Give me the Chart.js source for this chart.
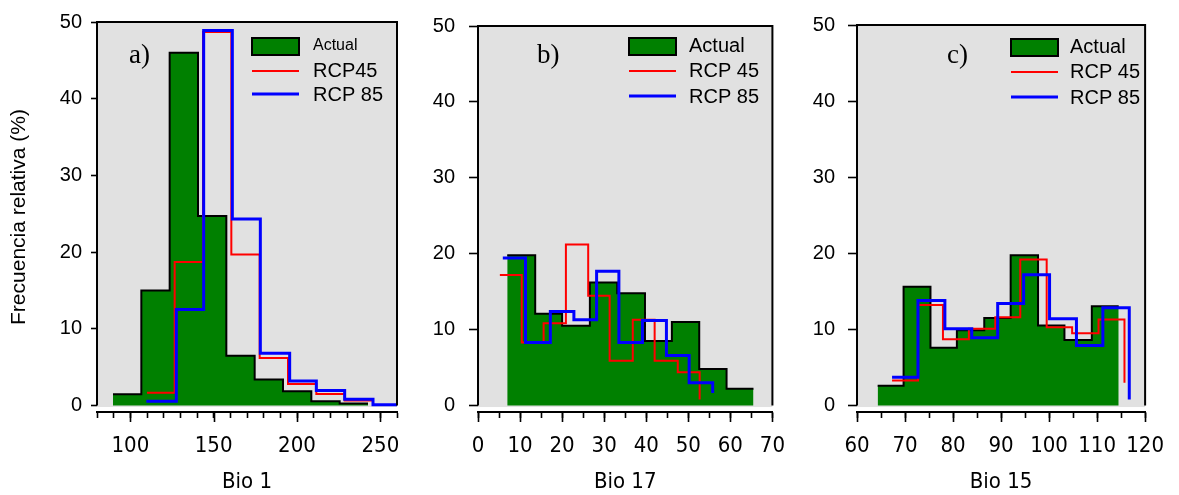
<!DOCTYPE html>
<html lang="es">
<head>
<meta charset="UTF-8">
<title>Frecuencia relativa - Bio 1, Bio 17, Bio 15</title>
<script src="https://cdn.jsdelivr.net/npm/chart.js@4.4.0/dist/chart.umd.min.js"></script>
<style>
    html, body { margin: 0; padding: 0; background: #fff; }
    .panel { position: absolute; top: 0; height: 495px; }
</style>
</head>
<body>
<div class="panel" style="left:0;width:420px"><canvas id="chartA"></canvas></div>
<div class="panel" style="left:420px;width:380px"><canvas id="chartB"></canvas></div>
<div class="panel" style="left:800px;width:379px"><canvas id="chartC"></canvas></div>

<script>
// Bio 1 (panel a)
const bio1Edges = [89.6, 106.6, 123.6, 140.6, 157.6, 174.6, 191.6, 208.6, 225.6, 242.6];
const bio1Actual = [1.45, 15.0, 46.0, 24.7, 6.5, 3.4, 1.86, 0.56, 0.26];
const bio1Rcp45X = [110, 126.6, 143.6, 160.6, 177.6, 194.6, 211.6, 228.6, 245.6];
const bio1Rcp45 = [1.65, 18.7, 48.7, 19.7, 6.2, 2.8, 1.5, 0.65, 0];
const bio1Rcp85X = [109.6, 127.6, 144, 161.2, 178, 195.6, 211.6, 228.6, 245.6, 260];
const bio1Rcp85 = [0.56, 12.5, 48.9, 24.3, 6.8, 3.2, 1.95, 0.8, 0.1, 0.1];
const bio1Labels = [100, 150, 200, 250];

// Bio 17 (panel b)
const bio17Edges = [6.95, 13.6, 20.0, 26.6, 33.1, 39.7, 46.1, 52.6, 59.1, 65.5];
const bio17Actual = [19.8, 12.1, 10.5, 16.2, 14.8, 8.5, 11.0, 4.8, 2.2];
const bio17Rcp45X = [5.2, 10.4, 15.6, 20.9, 26.2, 31.3, 36.8, 42.0, 47.5, 52.7];
const bio17Rcp45 = [17.2, 8.3, 10.85, 21.2, 14.45, 5.9, 11.3, 5.9, 4.4, 0.8];
const bio17Rcp85X = [5.9, 11.3, 17.2, 22.8, 28.2, 33.5, 39.1, 44.8, 50.2, 55.8];
const bio17Rcp85 = [19.45, 8.3, 12.4, 11.3, 17.7, 8.3, 11.2, 6.6, 3.0, 1.65];
const bio17Labels = [0, 10, 20, 30, 40, 50, 60, 70];

// Bio 15 (panel c)
const bio15Edges = [64.3, 69.7, 75.3, 80.8, 86.5, 92.0, 97.7, 103.2, 108.9, 114.5];
const bio15Actual = [2.6, 15.6, 7.6, 9.9, 11.5, 19.75, 10.5, 8.6, 13.05];
const bio15Rcp45X = [67.3, 72.7, 77.9, 83.3, 88.8, 94.0, 99.5, 104.8, 110.3, 115.7];
const bio15Rcp45 = [3.3, 13.2, 8.7, 10.1, 11.6, 19.2, 10.3, 9.5, 11.3, 3.0];
const bio15Rcp85X = [67.3, 72.7, 78.3, 83.9, 89.3, 94.7, 100.1, 105.7, 111.2, 116.7];
const bio15Rcp85 = [3.7, 13.8, 10.1, 8.9, 13.4, 17.2, 11.4, 7.9, 12.85, 0.8];
const bio15Labels = [60, 70, 80, 90, 100, 110, 120];

const yTicks = [0, 10, 20, 30, 40, 50];
const seriesNames = ['Actual', 'RCP45', 'RCP 85'];

const GREEN = '#008000';
const GRAY = '#e1e1e1';
const SANS = "'Liberation Sans', Arial, sans-serif";
const NARROW = "'Liberation Sans Narrow', 'Arial Narrow', 'DejaVu Sans Condensed', 'Liberation Sans', sans-serif";

// histogram bars -> step outline points
function histPoints(edges, heights) {
    const pts = heights.map((h, i) => ({ x: edges[i], y: h }));
    pts.push({ x: edges[edges.length - 1], y: heights[heights.length - 1] });
    return pts;
}

function stepPoints(xs, ys) {
    return xs.map((x, i) => ({ x: x, y: ys[i] }));
}

// gray plot background, frame, panel letter, legend, longer major ticks
const panelDecor = {
    id: 'panelDecor',
    beforeDraw(chart) {
        const { ctx, chartArea } = chart;
        const y0 = chart.scales.y.getPixelForValue(0);
        ctx.save();
        ctx.fillStyle = GRAY;
        ctx.fillRect(chartArea.left, chartArea.top, chartArea.right - chartArea.left, y0 + 1.5 - chartArea.top);
        ctx.restore();
    },
    afterDraw(chart, args, opts) {
        const { ctx, chartArea } = chart;
        const xs = chart.scales.x;
        const y0 = chart.scales.y.getPixelForValue(0);
        ctx.save();
        // frame: left, top, right
        ctx.strokeStyle = '#000';
        ctx.lineWidth = 2;
        ctx.beginPath();
        ctx.moveTo(chartArea.left, y0);
        ctx.lineTo(chartArea.left, chartArea.top);
        ctx.lineTo(chartArea.right, chartArea.top);
        ctx.lineTo(chartArea.right, y0);
        ctx.stroke();

        // major ticks a bit longer
        ctx.lineWidth = 1.6;
        opts.majors.forEach(v => {
            const px = Math.round(xs.getPixelForValue(v)) + 0.5;
            ctx.beginPath();
            ctx.moveTo(px, xs.top);
            ctx.lineTo(px, xs.top + 10);
            ctx.stroke();
        });

        // panel letter
        ctx.fillStyle = '#000';
        ctx.font = "27px 'Liberation Serif', 'Times New Roman', serif";
        ctx.textBaseline = 'middle';
        ctx.textAlign = 'left';
        ctx.fillText(opts.letter, opts.letterX, 56);

        // legend
        const lg = opts.legend;
        ctx.fillStyle = GREEN;
        ctx.fillRect(lg.x, lg.boxY, 47, 17);
        ctx.lineWidth = 2;
        ctx.strokeRect(lg.x, lg.boxY, 47, 17);
        ctx.strokeStyle = '#ff0000';
        ctx.lineWidth = 2;
        ctx.beginPath();
        ctx.moveTo(lg.x, lg.redY);
        ctx.lineTo(lg.x + 47, lg.redY);
        ctx.stroke();
        ctx.strokeStyle = '#0000ff';
        ctx.lineWidth = 3;
        ctx.beginPath();
        ctx.moveTo(lg.x, lg.blueY);
        ctx.lineTo(lg.x + 47, lg.blueY);
        ctx.stroke();
        ctx.fillStyle = '#000';
        ctx.font = lg.firstSize + 'px ' + SANS;
        ctx.fillText(lg.names[0], lg.textX, lg.boxY + 8);
        ctx.font = '20px ' + SANS;
        ctx.fillText(lg.names[1], lg.textX, lg.redY);
        ctx.fillText(lg.names[2], lg.textX, lg.blueY + 1);
        ctx.restore();
    }
};

function makePanel(id, cfg) {
    return new Chart(document.getElementById(id), {
        type: 'line',
        data: {
            datasets: [
                {
                    label: seriesNames[0],
                    data: histPoints(cfg.edges, cfg.actual),
                    stepped: 'before',
                    borderColor: '#000',
                    borderWidth: 2,
                    backgroundColor: GREEN,
                    fill: 'origin',
                    pointRadius: 0,
                    order: 3
                },
                {
                    label: seriesNames[1],
                    data: stepPoints(cfg.r45x, cfg.r45),
                    stepped: 'before',
                    borderColor: '#ff0000',
                    borderWidth: 2,
                    fill: false,
                    pointRadius: 0,
                    order: 2
                },
                {
                    label: seriesNames[2],
                    data: stepPoints(cfg.r85x, cfg.r85),
                    stepped: 'before',
                    borderColor: '#0000ff',
                    borderWidth: 3,
                    fill: false,
                    pointRadius: 0,
                    order: 1
                }
            ]
        },
        options: {
            responsive: true,
            maintainAspectRatio: false,
            animation: false,
            layout: { padding: { top: 22, right: cfg.padRight, bottom: 0, left: 0 } },
            plugins: {
                legend: { display: false },
                tooltip: { enabled: false },
                panelDecor: {
                    majors: cfg.labels,
                    letter: cfg.letter,
                    letterX: cfg.letterX,
                    legend: cfg.legend
                }
            },
            scales: {
                x: {
                    type: 'linear',
                    position: 'bottom',
                    min: cfg.min,
                    max: cfg.max,
                    border: { display: true, color: '#000', width: 2 },
                    grid: { drawOnChartArea: false, drawTicks: true, tickLength: 6, tickWidth: 1.6, tickColor: '#000' },
                    ticks: {
                        stepSize: cfg.step,
                        autoSkip: false,
                        maxRotation: 0,
                        color: '#000',
                        padding: 15,
                        font: { family: NARROW, size: 22 },
                        callback: v => cfg.labels.includes(v) ? String(v) : ''
                    },
                    title: {
                        display: true,
                        text: cfg.title,
                        color: '#000',
                        font: { family: NARROW, size: 22 },
                        padding: { top: 0, bottom: 0 }
                    },
                    afterFit: s => { s.height = 83; }
                },
                y: {
                    type: 'linear',
                    min: -0.85,
                    max: 50,
                    border: { display: false },
                    grid: { drawOnChartArea: false, drawTicks: true, tickLength: cfg.yTick, tickWidth: 1.6, tickColor: '#000' },
                    afterBuildTicks: s => { s.ticks = yTicks.map(v => ({ value: v })); },
                    ticks: {
                        color: '#000',
                        padding: cfg.yPad,
                        font: { family: SANS, size: 20 }
                    },
                    title: {
                        display: !!cfg.yTitle,
                        text: cfg.yTitle || '',
                        color: '#000',
                        font: { family: SANS, size: 21 },
                        padding: { top: 7, bottom: 0 }
                    },
                    afterFit: s => { s.width = cfg.yWidth; }
                }
            }
        },
        plugins: [panelDecor]
    });
}

makePanel('chartA', {
    edges: bio1Edges, actual: bio1Actual,
    r45x: bio1Rcp45X, r45: bio1Rcp45, r85x: bio1Rcp85X, r85: bio1Rcp85,
    labels: bio1Labels, min: 80, max: 260, step: 10, title: 'Bio 1',
    yTitle: 'Frecuencia relativa (%)', yWidth: 97, yTick: 6, yPad: 9, padRight: 23,
    letter: 'a)', letterX: 129,
    legend: { x: 252, boxY: 38, redY: 71, blueY: 94, textX: 313, firstSize: 16, names: ['Actual', 'RCP45', 'RCP 85'] }
});

makePanel('chartB', {
    edges: bio17Edges, actual: bio17Actual,
    r45x: bio17Rcp45X, r45: bio17Rcp45, r85x: bio17Rcp85X, r85: bio17Rcp85,
    labels: bio17Labels, min: 0, max: 70, step: 5, title: 'Bio 17',
    yWidth: 58, yTick: 9, yPad: 14, padRight: 24,
    letter: 'b)', letterX: 117,
    legend: { x: 209, boxY: 38, redY: 71, blueY: 96, textX: 269, firstSize: 20, names: ['Actual', 'RCP 45', 'RCP 85'] }
});

makePanel('chartC', {
    edges: bio15Edges, actual: bio15Actual,
    r45x: bio15Rcp45X, r45: bio15Rcp45, r85x: bio15Rcp85X, r85: bio15Rcp85,
    labels: bio15Labels, min: 60, max: 120, step: 5, title: 'Bio 15',
    yWidth: 57, yTick: 9, yPad: 13, padRight: 22,
    letter: 'c)', letterX: 147,
    legend: { x: 211, boxY: 39, redY: 72, blueY: 97, textX: 270, firstSize: 20, names: ['Actual', 'RCP 45', 'RCP 85'] }
});
</script>
</body>
</html>
